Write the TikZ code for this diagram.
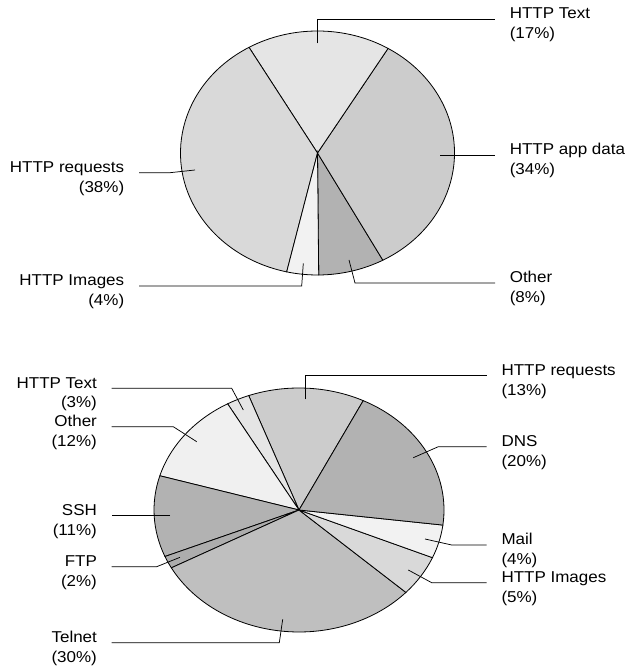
\documentclass[tikz,border=0pt]{standalone}
\usepackage{fontspec}
\setmainfont{Liberation Sans}[FakeStretch=1.08]
\usetikzlibrary{calc}

\begin{document}
\begin{tikzpicture}[
    x=0.75pt, y=0.75pt,
    font=\fontsize{11.8pt}{14.6pt}\selectfont,
    slice/.style={
        draw=black,
        line width=0.6pt
    },
    lead/.style={
        draw=black,
        line width=0.55pt
    },
    lblL/.style={
        align=right,
        anchor=base east,
        yshift=-14.6pt,
        inner xsep=10.9pt,
        inner ysep=0pt
    },
    lblR/.style={
        align=left,
        anchor=base west,
        yshift=-14.6pt,
        inner xsep=10.9pt,
        inner ysep=0pt
    }
]

\useasboundingbox (0,0) rectangle (626,668);

% upper pie
\coordinate (up) at (317.5,515);
\foreach \from/\to/\tone in {-89.5/-61.5/30, -61.5/59/20, 59/120/10, 120/257/15, 257/270.5/5}
    \draw[slice, fill=black!\tone] (up) -- ++(\from:137 and 122)
        arc[start angle=\from, end angle=\to, x radius=137, y radius=122] -- cycle;

% lower pie
\coordinate (low) at (299,158);
\foreach \from/\to/\tone in {63.7/110.3/20, 110.3/119.5/10, 119.5/163.7/6, 163.7/202.4/30,
        202.4/208.3/32, 208.3/317.5/25, 317.5/337/15, 337/352.9/5, 352.9/423.7/30}
    \draw[slice, fill=black!\tone] (low) -- ++(\from:145 and 122)
        arc[start angle=\from, end angle=\to, x radius=145, y radius=122] -- cycle;

% upper labels
\node[lblR] (uText) at (495,649) {HTTP Text\\(17\%)};
\node[lblR] (uApp) at (495,513) {HTTP app data\\(34\%)};
\node[lblR] (uOther) at (495,385) {Other\\(8\%)};
\node[lblL] (uImg) at (139,382) {HTTP Images\\(4\%)};
\node[lblL] (uReq) at (139,495.3) {HTTP requests\\(38\%)};

\coordinate (uTextTip) at (317.7,624.7);
\coordinate (uTextBend) at (317.7,649);
\coordinate (uAppTip) at (440,513);
\coordinate (uOtherTip) at (349,408);
\coordinate (uOtherBend) at (355,385);
\coordinate (uImgTip) at (303.3,404.7);
\coordinate (uImgBend) at (301.7,382);
\coordinate (uReqTip) at (195,498);
\coordinate (uReqBend) at (170,495.3);

\draw[lead] (uTextTip) -- (uTextBend) -- (uTextBend -| uText.west);
\draw[lead] (uAppTip) -- (uAppTip -| uApp.west);
\draw[lead] (uOtherTip) -- (uOtherBend) -- (uOtherBend -| uOther.west);
\draw[lead] (uImgTip) -- (uImgBend) -- (uImgBend -| uImg.east);
\draw[lead] (uReqTip) -- (uReqBend) -- (uReqBend -| uReq.east);

% lower labels
\node[lblR] (lReq) at (486.7,292.3) {HTTP requests\\(13\%)};
\node[lblR] (lDns) at (486.7,221.3) {DNS\\(20\%)};
\node[lblR] (lMail) at (486.7,123) {Mail\\(4\%)};
\node[lblR] (lImg) at (486.7,85.3) {HTTP Images\\(5\%)};
\node[lblL] (lTelnet) at (111.7,25.3) {Telnet\\(30\%)};
\node[lblL] (lFtp) at (111.7,101.3) {FTP\\(2\%)};
\node[lblL] (lSsh) at (111.7,152.2) {SSH\\(11\%)};
\node[lblL] (lOther) at (111.7,241.3) {Other\\(12\%)};
\node[lblL] (lText) at (111.7,279.7) {HTTP Text\\(3\%)};

\coordinate (lReqTip) at (305,268.7);
\coordinate (lReqBend) at (305,292.3);
\coordinate (lDnsTip) at (413.3,210.3);
\coordinate (lDnsBend) at (438.3,221.3);
\coordinate (lMailTip) at (425,129);
\coordinate (lMailBend) at (451.7,123);
\coordinate (lImgTip) at (408.3,98);
\coordinate (lImgBend) at (431.7,85.3);
\coordinate (lTelnetTip) at (282.7,48.7);
\coordinate (lTelnetBend) at (279.3,25.3);
\coordinate (lFtpTip) at (180,110.7);
\coordinate (lFtpBend) at (156.7,101.3);
\coordinate (lSshTip) at (170,152.2);
\coordinate (lOtherTip) at (196.7,226.3);
\coordinate (lOtherBend) at (173.3,241.3);
\coordinate (lTextTip) at (243.3,258);
\coordinate (lTextBend) at (231.7,279.7);

\draw[lead] (lReqTip) -- (lReqBend) -- (lReqBend -| lReq.west);
\draw[lead] (lDnsTip) -- (lDnsBend) -- (lDnsBend -| lDns.west);
\draw[lead] (lMailTip) -- (lMailBend) -- (lMailBend -| lMail.west);
\draw[lead] (lImgTip) -- (lImgBend) -- (lImgBend -| lImg.west);
\draw[lead] (lTelnetTip) -- (lTelnetBend) -- (lTelnetBend -| lTelnet.east);
\draw[lead] (lFtpTip) -- (lFtpBend) -- (lFtpBend -| lFtp.east);
\draw[lead] (lSshTip) -- (lSshTip -| lSsh.east);
\draw[lead] (lOtherTip) -- (lOtherBend) -- (lOtherBend -| lOther.east);
\draw[lead] (lTextTip) -- (lTextBend) -- (lTextBend -| lText.east);

\end{tikzpicture}
\end{document}
